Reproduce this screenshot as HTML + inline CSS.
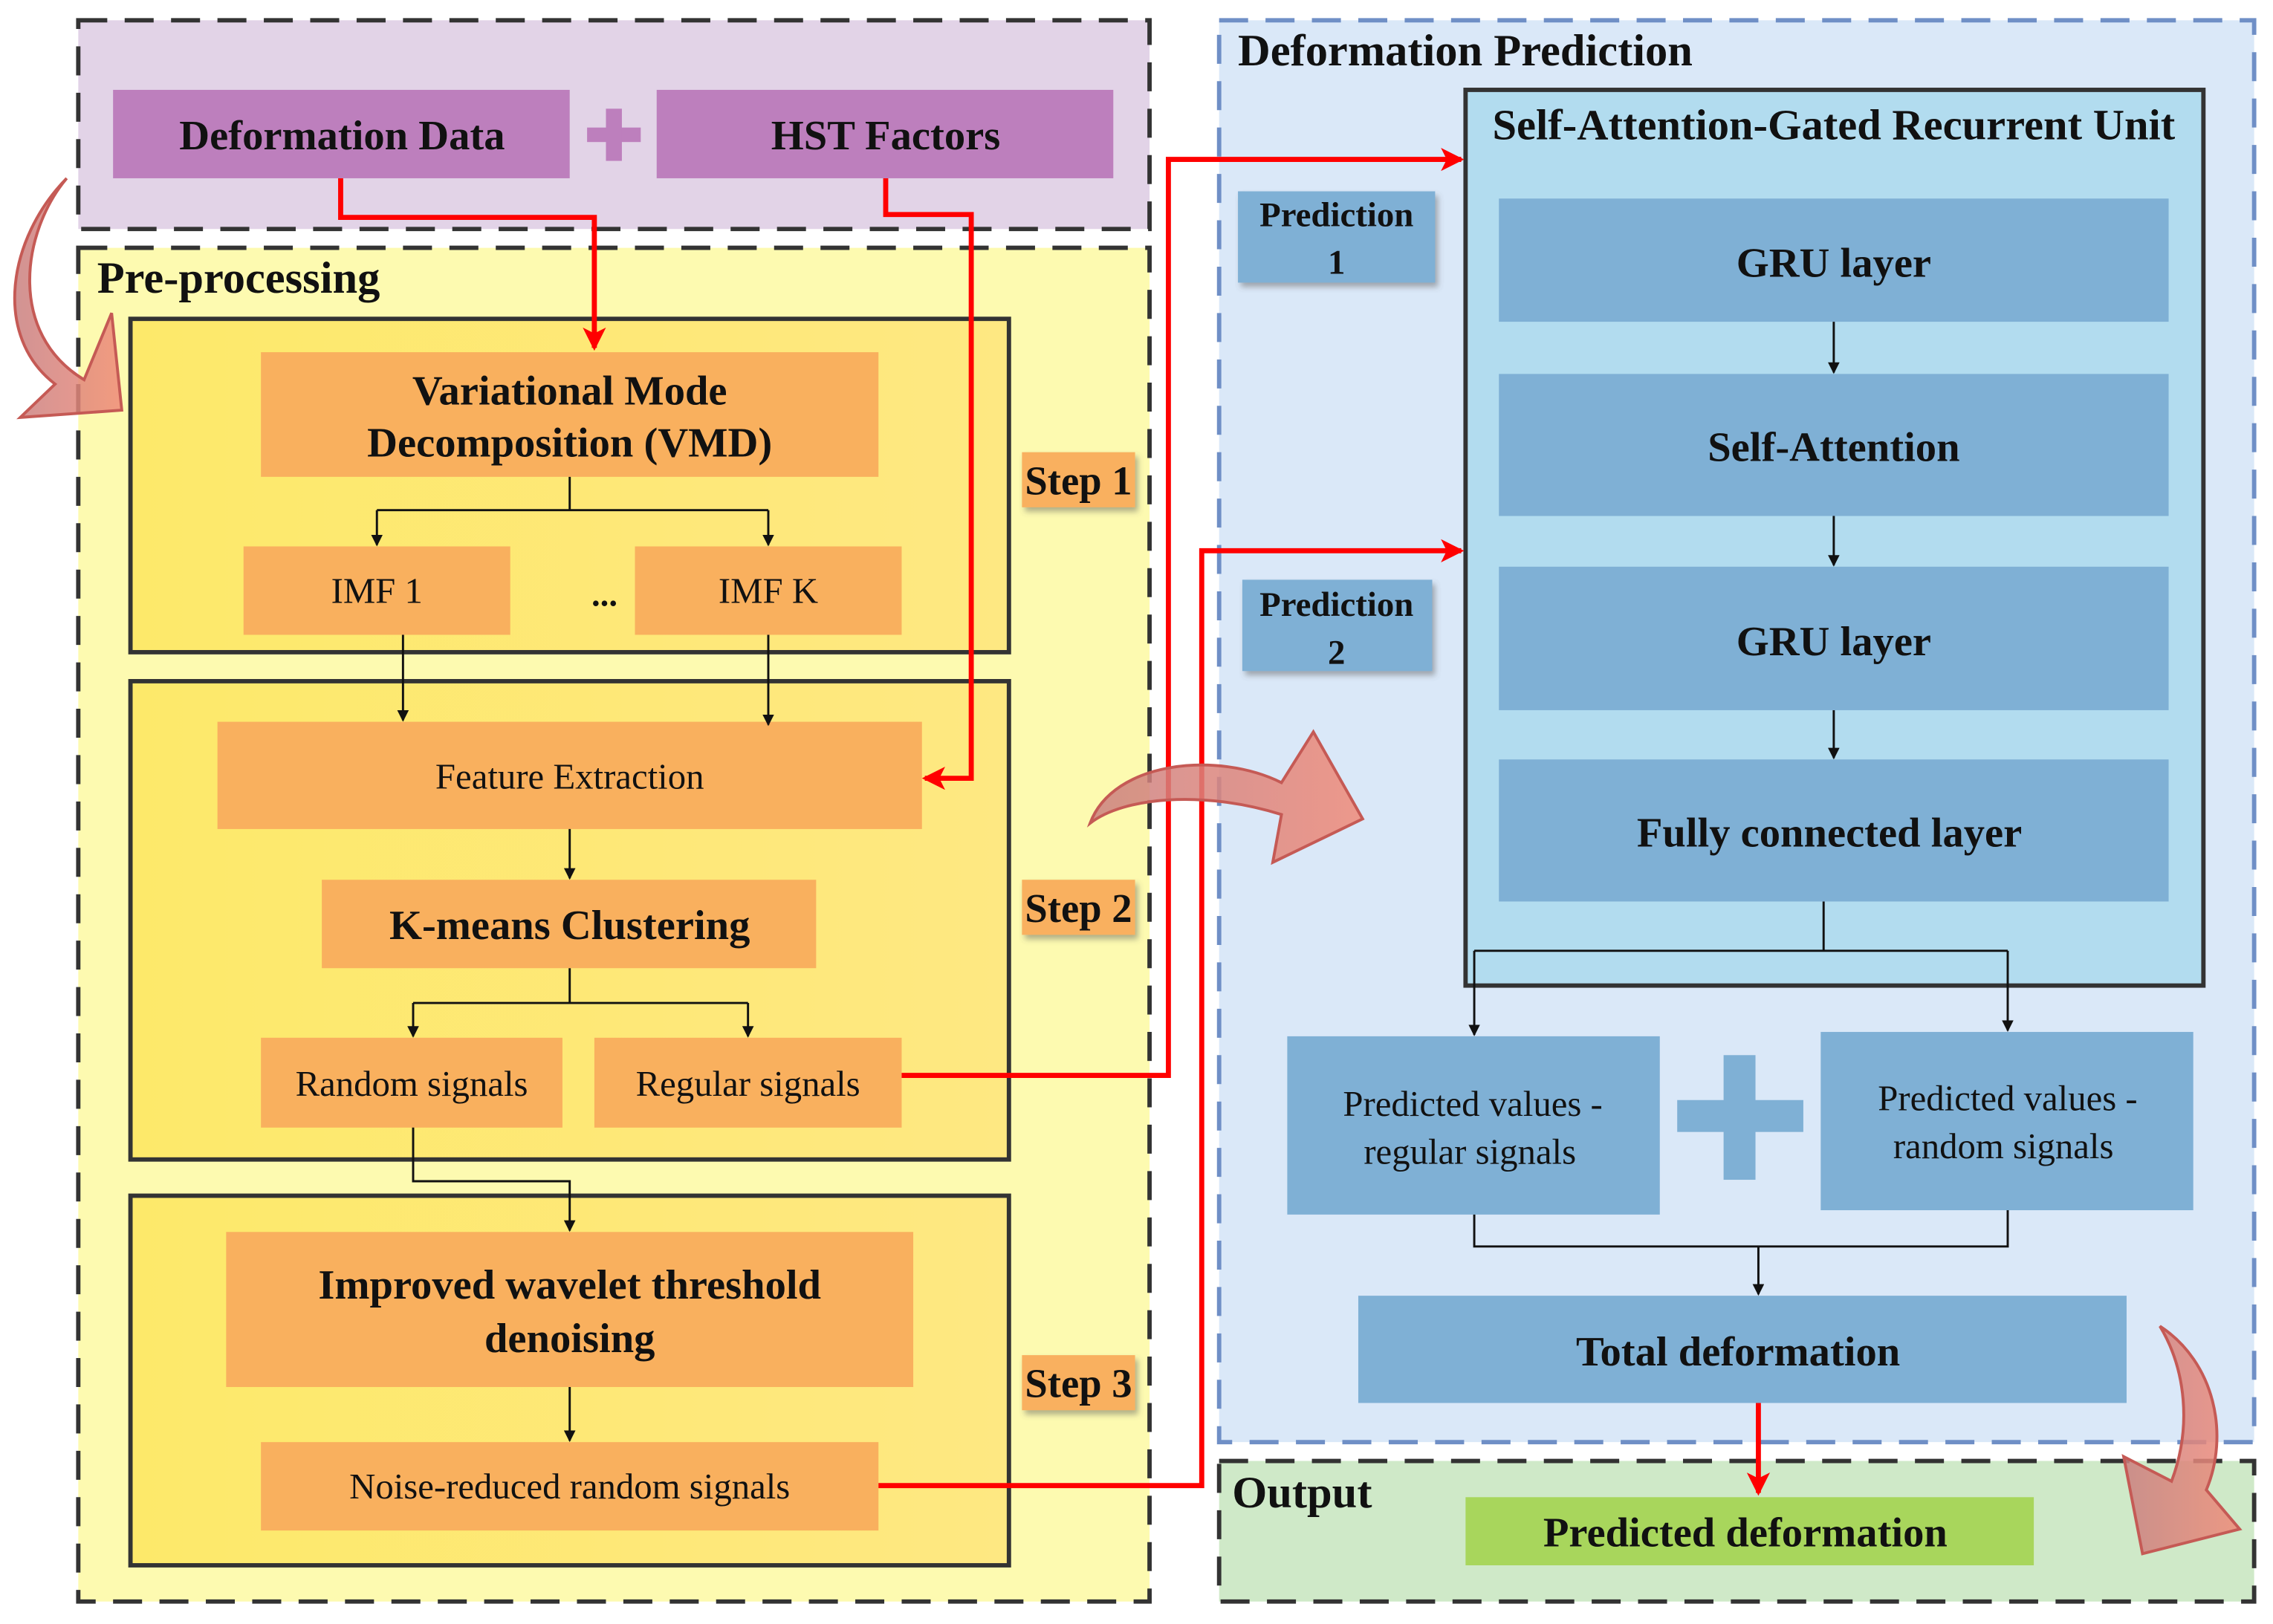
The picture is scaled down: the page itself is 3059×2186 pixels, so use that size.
<!DOCTYPE html>
<html><head><meta charset="utf-8"><style>
html,body{margin:0;padding:0;background:#fff}
svg{display:block}
text{font-family:"Liberation Serif",serif;fill:#111}
.b{font-weight:bold}
</style></head><body>
<svg width="3059" height="2186" viewBox="0 0 1568 1120.5" preserveAspectRatio="none" xmlns="http://www.w3.org/2000/svg">
<defs>
<linearGradient id="yg" x1="0" y1="0" x2="1" y2="0"><stop offset="0" stop-color="#fde96a"/><stop offset="1" stop-color="#fee882"/></linearGradient>
<linearGradient id="ag" x1="0" y1="0" x2="1" y2="0"><stop offset="0" stop-color="#c98080" stop-opacity=".85"/><stop offset="1" stop-color="#f08a78" stop-opacity=".85"/></linearGradient>
<filter id="sh" x="-10%" y="-10%" width="130%" height="140%"><feDropShadow dx="2" dy="3" stdDeviation="2" flood-color="#555" flood-opacity=".45"/></filter>
<marker id="ar" markerWidth="8" markerHeight="8" refX="7" refY="4" orient="auto" markerUnits="userSpaceOnUse"><path d="M0,0 L8,4 L0,8 Z" fill="#111"/></marker>
<marker id="rr" markerWidth="16" markerHeight="16" refX="14" refY="8" orient="auto" markerUnits="userSpaceOnUse"><path d="M0,0 L16,8 L0,16 L4,8 Z" fill="#f00"/></marker>
</defs>

<rect x="54" y="14" width="739" height="144" fill="#e2d3e7" stroke="#333" stroke-width="3" stroke-dasharray="20,12"/>
<rect x="78" y="62" width="315" height="61" fill="#bd7fbd"/>
<text x="236" y="103" class="b" font-size="29" text-anchor="middle">Deformation Data</text>
<rect x="453" y="62" width="315" height="61" fill="#bd7fbd"/>
<text x="611" y="103" class="b" font-size="29" text-anchor="middle">HST Factors</text>
<rect x="405" y="88" width="37" height="10" fill="#bd7fbd"/><rect x="418" y="75" width="11" height="36" fill="#bd7fbd"/>

<rect x="54" y="171" width="739" height="934" fill="#fdfab0" stroke="#333" stroke-width="3" stroke-dasharray="20,12"/>
<text x="67" y="202" class="b" font-size="31">Pre-processing</text>

<rect x="90" y="220" width="606" height="230" fill="url(#yg)" stroke="#333" stroke-width="3"/>
<rect x="90" y="470" width="606" height="330" fill="url(#yg)" stroke="#333" stroke-width="3"/>
<rect x="90" y="825" width="606" height="255" fill="url(#yg)" stroke="#333" stroke-width="3"/>

<rect x="180" y="243" width="426" height="86" fill="#f9b05e"/>
<text x="393" y="279" class="b" font-size="29" text-anchor="middle">Variational Mode</text>
<text x="393" y="315" class="b" font-size="29" text-anchor="middle">Decomposition (VMD)</text>
<rect x="168" y="377" width="184" height="61" fill="#f9b05e"/>
<text x="260" y="416" font-size="25" text-anchor="middle">IMF 1</text>
<rect x="438" y="377" width="184" height="61" fill="#f9b05e"/>
<text x="530" y="416" font-size="25" text-anchor="middle">IMF K</text>
<text x="417" y="418" class="b" font-size="24" text-anchor="middle">...</text>

<rect x="150" y="498" width="486" height="74" fill="#f9b05e"/>
<text x="393" y="544" font-size="25" text-anchor="middle">Feature Extraction</text>
<rect x="222" y="607" width="341" height="61" fill="#f9b05e"/>
<text x="393" y="648" class="b" font-size="29" text-anchor="middle">K-means Clustering</text>
<rect x="180" y="716" width="208" height="62" fill="#f9b05e"/>
<text x="284" y="756" font-size="25" text-anchor="middle">Random signals</text>
<rect x="410" y="716" width="212" height="62" fill="#f9b05e"/>
<text x="516" y="756" font-size="25" text-anchor="middle">Regular signals</text>

<rect x="156" y="850" width="474" height="107" fill="#f9b05e"/>
<text x="393" y="896" class="b" font-size="29" text-anchor="middle">Improved wavelet threshold</text>
<text x="393" y="933" class="b" font-size="29" text-anchor="middle">denoising</text>
<rect x="180" y="995" width="426" height="61" fill="#f9b05e"/>
<text x="393" y="1034" font-size="25" text-anchor="middle">Noise-reduced random signals</text>

<g filter="url(#sh)">
<rect x="705" y="312" width="78" height="38" fill="#f9b05e"/>
<rect x="705" y="607" width="78" height="38" fill="#f9b05e"/>
<rect x="705" y="935" width="78" height="38" fill="#f9b05e"/>
</g>
<text x="744" y="341" class="b" font-size="28" text-anchor="middle">Step 1</text>
<text x="744" y="636" class="b" font-size="28" text-anchor="middle">Step 2</text>
<text x="744" y="964" class="b" font-size="28" text-anchor="middle">Step 3</text>

<g stroke="#111" stroke-width="1.5" fill="none">
<path d="M393,329 V352 M260,352 H530"/>
<path d="M260,352 V376" marker-end="url(#ar)"/>
<path d="M530,352 V376" marker-end="url(#ar)"/>
<path d="M278,438 V497" marker-end="url(#ar)"/>
<path d="M530,438 V500" marker-end="url(#ar)"/>
<path d="M393,572 V606" marker-end="url(#ar)"/>
<path d="M393,668 V692 M285,692 H516"/>
<path d="M285,692 V715" marker-end="url(#ar)"/>
<path d="M516,692 V715" marker-end="url(#ar)"/>
<path d="M285,778 V815 H393 V849" marker-end="url(#ar)"/>
<path d="M393,957 V994" marker-end="url(#ar)"/>
</g>

<rect x="841" y="14" width="714" height="981" fill="#dae8f8" stroke="#6f8fc6" stroke-width="3" stroke-dasharray="20,12"/>
<text x="854" y="45" class="b" font-size="31">Deformation Prediction</text>
<rect x="1011" y="62" width="509" height="618" fill="#b2dcef" stroke="#333" stroke-width="3"/>
<text x="1265" y="96" class="b" font-size="30" text-anchor="middle">Self-Attention-Gated Recurrent Unit</text>
<rect x="1034" y="137" width="462" height="85" fill="#7fb0d5"/>
<text x="1265" y="191" class="b" font-size="29" text-anchor="middle">GRU layer</text>
<rect x="1034" y="258" width="462" height="98" fill="#7fb0d5"/>
<text x="1265" y="318" class="b" font-size="29" text-anchor="middle">Self-Attention</text>
<rect x="1034" y="391" width="462" height="99" fill="#7fb0d5"/>
<text x="1265" y="452" class="b" font-size="29" text-anchor="middle">GRU layer</text>
<rect x="1034" y="524" width="462" height="98" fill="#7fb0d5"/>
<text x="1262" y="584" class="b" font-size="29" text-anchor="middle">Fully connected layer</text>

<g filter="url(#sh)">
<rect x="854" y="132" width="136" height="63" fill="#7fb0d5"/>
<rect x="857" y="400" width="131" height="63" fill="#7fb0d5"/>
</g>
<text x="922" y="156" class="b" font-size="24" text-anchor="middle">Prediction</text>
<text x="922" y="189" class="b" font-size="24" text-anchor="middle">1</text>
<text x="922" y="425" class="b" font-size="24" text-anchor="middle">Prediction</text>
<text x="922" y="458" class="b" font-size="24" text-anchor="middle">2</text>

<rect x="888" y="715" width="257" height="123" fill="#7fb0d5"/>
<text x="1016" y="770" font-size="25" text-anchor="middle">Predicted values -</text>
<text x="1014" y="803" font-size="25" text-anchor="middle">regular signals</text>
<rect x="1256" y="712" width="257" height="123" fill="#7fb0d5"/>
<text x="1385" y="766" font-size="25" text-anchor="middle">Predicted values -</text>
<text x="1382" y="799" font-size="25" text-anchor="middle">random signals</text>
<rect x="1157" y="759" width="87" height="22" fill="#7fb0d5"/><rect x="1189" y="728" width="22" height="86" fill="#7fb0d5"/>

<rect x="937" y="894" width="530" height="74" fill="#7fb0d5"/>
<text x="1199" y="942" class="b" font-size="29" text-anchor="middle">Total deformation</text>

<g stroke="#111" stroke-width="1.5" fill="none">
<path d="M1265,222 V257" marker-end="url(#ar)"/>
<path d="M1265,356 V390" marker-end="url(#ar)"/>
<path d="M1265,490 V523" marker-end="url(#ar)"/>
<path d="M1258,622 V656 M1017,656 H1385"/>
<path d="M1017,656 V714" marker-end="url(#ar)"/>
<path d="M1385,656 V711" marker-end="url(#ar)"/>
<path d="M1017,838 V860 H1385 V835 M1213,860 V893" marker-end="url(#ar)"/>
</g>

<rect x="841" y="1008" width="714" height="97" fill="#cfe9c8" stroke="#333" stroke-width="3" stroke-dasharray="20,12"/>
<text x="850" y="1040" class="b" font-size="31">Output</text>
<rect x="1011" y="1033" width="392" height="47" fill="#a8d65c"/>
<text x="1204" y="1067" class="b" font-size="29" text-anchor="middle">Predicted deformation</text>

<g stroke="#f00" stroke-width="3.5" fill="none">
<path d="M235,123 V150 H410 V240" marker-end="url(#rr)"/>
<path d="M611,123 V148 H670 V537 H638" marker-end="url(#rr)"/>
<path d="M622,742 H806 V110 H1008" marker-end="url(#rr)"/>
<path d="M606,1025 H829 V380 H1008" marker-end="url(#rr)"/>
<path d="M1213,968 V1030" marker-end="url(#rr)"/>
</g>

<g fill="url(#ag)" stroke="#c55a55" stroke-width="2">
<path d="M46,123 C15,160 5,230 58,262 L77,216 L84,283 L14,288 L38,265 C-5,232 5,165 46,123 Z"/>
<path d="M752,568 C768,525 840,518 884,540 L906,505 L940,565 L878,595 L884,562 C830,545 775,550 752,568 Z"/>
<path d="M1490,915 C1528,940 1538,990 1522,1028 L1545,1055 L1478,1072 L1465,1005 L1498,1022 C1512,985 1508,945 1490,915 Z"/>
</g>
</svg>
</body></html>
